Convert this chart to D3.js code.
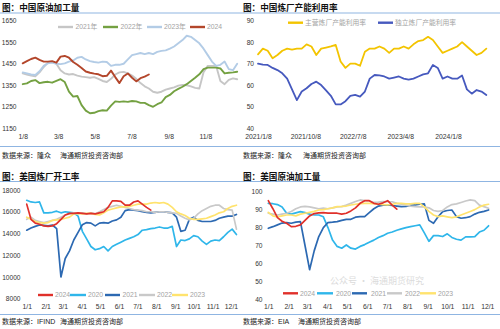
<!DOCTYPE html>
<html>
<head>
<meta charset="utf-8">
<script src="https://cdn.jsdelivr.net/npm/d3@7"></script>
<style>
  body { margin: 0; background: #fff; }
  svg { display: block; font-family: "Liberation Sans", "Noto Sans CJK SC", sans-serif; }
</style>
</head>
<body>
<svg id="chart" width="500" height="329"></svg>
<script>
// ---- China crude runs (weekly, from 1/8) ----
var cnRunYears = ["2021年", "2022年", "2023年", "2024"];
var cnRun2021 = [1405,1400,1395,1392,1410,1435,1455,1458,1450,1420,1405,1400,1402,1395,1390,1388,1385,1388,1380,1370,1365,1380,1400,1410,1412,1405,1395,1380,1360,1345,1335,1320,1315,1320,1330,1335,1340,1348,1352,1350,1345,1338,1335,1410,1440,1440,1440,1370,1355,1375,1382,1378];
var cnRun2022 = [1355,1359,1370,1374,1360,1364,1366,1362,1370,1378,1365,1320,1297,1300,1258,1232,1220,1222,1230,1234,1232,1255,1275,1273,1275,1273,1277,1275,1268,1268,1258,1250,1262,1270,1295,1305,1322,1333,1343,1355,1370,1385,1401,1425,1432,1432,1432,1428,1405,1408,1410,1413];
var cnRun2023 = [1410,1405,1400,1398,1415,1440,1452,1455,1450,1448,1452,1460,1465,1478,1482,1470,1462,1458,1455,1460,1458,1440,1445,1445,1450,1470,1490,1495,1500,1495,1500,1495,1505,1510,1512,1520,1530,1545,1560,1580,1575,1560,1545,1520,1490,1460,1440,1445,1460,1425,1420,1450];
var cnRun2024 = [1452,1462,1472,1478,1468,1460,1460,1462,1455,1483,1486,1478,1458,1445,1430,1414,1408,1404,1401,1392,1394,1418,1388,1360,1392,1405,1385,1368,1383,1390,1400];
var cnRunTicks = ["1/8", "3/8", "5/8", "7/8", "9/8", "11/8"];
var cnRunYTicks = [1150, 1250, 1350, 1450, 1550, 1650];

// ---- China refinery utilization (every 4 weeks from 2021/1/8) ----
var utilNames = ["主营炼厂产能利用率", "独立炼厂产能利用率"];
var utilMain = [74.3,77,76,72.5,74,76,77,76.5,77,77,79,78,74,77,77.5,78,78.7,71,68,70,70,69,75.5,77,77,78,77,75,77,77,78,77,79,80.5,81,82.5,81,78,75,76,77,78,80,78,76,74,75,77];
var utilIndep = [70,69.5,69.4,68,67,65.5,63,58,53,57,58.5,60.5,61.6,60,57.5,55,51,51,52.5,55,55.4,54.6,57,63,64.7,64.5,64,63,63.5,64,63,62.5,63,64,65,65.5,69.4,68,63,64,63,63,64.5,58,56,57.7,57,55.4];
var utilTicks = ["2021/1/8", "2021/10/8", "2022/7/8", "2023/4/8", "2024/1/8"];
var utilYTicks = [40, 50, 60, 70, 80, 90];

// ---- US refinery runs (weekly from 1/1) ----
var usYears = ["2024", "2020", "2021", "2022", "2023"];
var usRef2020 = [17050,16900,16850,16900,15900,15900,15950,16050,15900,16000,15950,15900,15600,14200,13500,12800,12500,12600,12800,12400,12800,13000,13200,13400,13550,13700,13900,14300,14350,14450,14500,14600,14500,14500,14650,12800,13400,13350,13500,13800,13700,13300,13000,13300,13400,13350,13700,14100,14400,13900];
var usRef2021 = [14300,14500,14650,14780,14750,14700,14780,14450,10000,11700,12400,13400,14100,14800,15000,14950,14700,14950,15000,14950,15150,15250,15500,16100,16200,16150,16100,16000,15950,15900,15950,16000,16000,15950,15900,15500,14200,14300,15300,15500,15200,15100,15100,15100,15200,15400,15500,15600,15600,15750];
var usRef2022 = [15300,15500,15200,15100,15000,15100,15200,15300,15500,15700,15800,15900,15800,15900,15800,15900,15800,16000,16200,16400,16500,16600,16500,16400,16300,16200,16150,16100,16000,16000,15950,16000,16000,15950,15900,15850,15600,15400,15250,15400,15800,16100,16300,16500,16600,16600,16300,16200,16150,14400];
var usRef2023 = [15500,15300,15100,15000,14950,15000,15200,15250,15300,15400,15500,15800,15850,15800,15850,15850,15750,15700,15900,16150,16250,16350,16450,16450,16500,16600,16700,16700,16700,16800,16850,16800,16850,16700,16400,16000,15800,15650,15400,15300,15300,15350,15400,15550,15700,15900,16000,16300,16500,16600];
var usRef2024 = [16700,15300,14950,14850,14700,14650,14700,14900,15300,15700,15850,15850,15900,15850,15800,15850,15800,15900,16000,16400,17000,17000,16950,16600,16600,16900,17000,16700,16400,16150];
var usRefYTicks = [8000, 10000, 12000, 14000, 16000, 18000];

// ---- US utilization (weekly from 1/1) ----
var usUtil2020 = [93.5,93.3,92.8,91.5,88,87.5,88.2,88.9,88.3,87.5,87,87,86,80,73,69.5,68.5,70.3,68.5,68,69.5,70.5,71.8,73,74.5,75.5,76.8,77.5,78.5,79.3,80,80.5,81,81.5,77,72.3,75.5,75.5,75,76.5,74.5,73.5,73,74.8,74.8,75,77.5,78.5,81];
var usUtil2021 = [79.6,80.5,81.5,82.5,82.8,82.4,83,83.3,70,56.5,67,75,80,82.8,83,83.3,84,84.6,84.6,85.8,86.1,86.1,88.3,90.5,92,92.5,92.6,92.3,92,91.7,91.8,92.4,92.6,93,93.2,84,82.4,86,88.9,89.5,89.8,86.1,85.2,85.5,86.1,87.5,88.5,89,89.8];
var usUtil2022 = [88,87.5,87,87.5,88,89,90.5,91.5,91.8,91.5,91,90.5,90.8,90.5,91,91.5,91.7,92.5,93.5,94.5,95.4,95,94.8,94,94.2,94.5,94.4,94.4,93.5,93,92.5,92,91.7,91.5,91.5,91,89.5,89,89.5,91.5,92.8,93.2,94,94.8,95.4,95,92.5,91.7,90.8];
var usUtil2023 = [88.5,86.5,86,86.5,87,87,86.5,87.5,88,88.5,89,89.8,90,90.5,91,91.7,91.8,92,92.6,93,93.3,93.5,93.5,93.3,93,92.8,92.6,93,93.5,93.5,93.2,93.2,93.5,93.5,91.5,89,87,86.1,86.5,86,85.5,86,87,88,89,90,91.5,92.5,93];
var usUtil2024 = [95,90.5,85.5,83.5,82.4,80.5,80.7,81.5,84,86.5,87.8,88.2,88.3,88.1,88,88,87.5,88,89.3,91,93.5,95,95,93.5,93,93.8,95,92.5,90.3];
var usUtilYTicks = [40, 50, 60, 70, 80, 90, 100];
var usMonthTicks = ["1/1", "2/1", "3/1", "4/1", "5/1", "6/1", "7/1", "8/1", "9/1", "10/1", "11/1", "12/1"];

var svg = d3.select("#chart");

function dateSeq(y, m, d, n, step) {
    return d3.range(n).map(function (i) { return new Date(Date.UTC(y, m - 1, d + i * step)); });
}
function parseMD(s, year) {
    var p = s.split("/").map(Number);
    return new Date(Date.UTC(year, p[0] - 1, p[1]));
}
function parseYMD(s) {
    var p = s.split("/").map(Number);
    return new Date(Date.UTC(p[0], p[1] - 1, p[2]));
}

function drawPanel(p) {
    var g = svg.append("g");

    //title
    g.append("text")
        .attr("x", p.left).attr("y", p.titleY)
        .attr("font-size", 8.6).attr("font-weight", "bold").attr("fill", "#111")
        .text(p.title);

    //source line
    g.append("text")
        .attr("x", p.left).attr("y", p.footY)
        .attr("font-size", 7).attr("fill", "#222")
        .text(p.source);
    g.append("text")
        .attr("x", p.left + p.source2Dx).attr("y", p.footY)
        .attr("font-size", 7).attr("fill", "#222")
        .text("海通期货投资咨询部");

    //y labels
    var yAxis = g.append("g")
        .attr("transform", "translate(" + p.yLabelX + ",0)")
        .call(d3.axisLeft(p.y).tickValues(p.yTicks).tickSize(0).tickPadding(0).tickFormat(d3.format("d")));
    yAxis.select(".domain").remove();
    yAxis.selectAll("text").attr("font-size", 6.6).attr("fill", "#333")
        .attr("font-family", "Liberation Sans, sans-serif");

    //x labels
    var xAxis = g.append("g")
        .attr("transform", "translate(0," + (p.xLabelY - 2.5) + ")")
        .call(d3.axisBottom(p.x).tickValues(p.xTickDates).tickSize(0).tickPadding(0)
            .tickFormat(function (d, i) { return p.xTickLabels[i]; }));
    xAxis.select(".domain").remove();
    xAxis.selectAll("text").attr("font-size", 6.8).attr("fill", "#333")
        .attr("font-family", "Liberation Sans, sans-serif");

    //lines
    var line = d3.line()
        .x(function (d) { return p.x(d[0]); })
        .y(function (d) { return p.y(d[1]); });

    p.series.forEach(function (s) {
        g.append("path")
            .datum(d3.zip(s.dates, s.values))
            .attr("fill", "none")
            .attr("stroke", s.color)
            .attr("stroke-width", p.lineWidth)
            .attr("stroke-linejoin", "round")
            .attr("stroke-linecap", "round")
            .attr("d", line);
    });

    //legend
    var lg = g.append("g");
    p.legend.forEach(function (l) {
        lg.append("line")
            .attr("x1", l.x0).attr("x2", l.x1)
            .attr("y1", p.legendY).attr("y2", p.legendY)
            .attr("stroke", l.color).attr("stroke-width", 2.4);
        lg.append("text")
            .attr("x", l.tx).attr("y", p.legendY + 2.4)
            .attr("font-size", 6.8).attr("fill", "#a3a3a3")
            .text(l.name);
    });
}

//separators
[13, 146.5, 181.5, 314.5].forEach(function (yy) {
    svg.append("line")
        .attr("x1", 0).attr("x2", 500).attr("y1", yy).attr("y2", yy)
        .attr("stroke", "#8fb5e2").attr("stroke-width", 1.1);
});

var c2021 = "#c6c6c6", c2022 = "#74a142", c2023 = "#b3cce6", c2024 = "#b3462b";

// panel 1: 中国原油加工量
drawPanel({
    title: "图：中国原油加工量", left: 2, titleY: 10.5,
    source: "数据来源：隆众", source2Dx: 58, footY: 157.5,
    x: d3.scaleUtc().domain([parseMD("1/8", 2021), parseMD("1/8", 2022)]).range([22.7, 242]),
    y: d3.scaleLinear().domain([1150, 1650]).range([128.3, 20.7]),
    yTicks: cnRunYTicks, yLabelX: 16.5,
    xTickDates: cnRunTicks.map(function (s) { return parseMD(s, 2021); }),
    xTickLabels: cnRunTicks, xLabelY: 136.5,
    lineWidth: 1.9,
    series: [
        { values: cnRun2021, color: c2021 },
        { values: cnRun2022, color: c2022 },
        { values: cnRun2023, color: c2023 },
        { values: cnRun2024, color: c2024 }
    ].map(function (s) { s.dates = dateSeq(2021, 1, 8, s.values.length, 7); return s; }),
    legendY: 27,
    legend: [
        { name: cnRunYears[0], color: c2021, x0: 58, x1: 73, tx: 75.5 },
        { name: cnRunYears[1], color: c2022, x0: 103, x1: 118, tx: 120.5 },
        { name: cnRunYears[2], color: c2023, x0: 147, x1: 162, tx: 164 },
        { name: cnRunYears[3], color: c2024, x0: 190, x1: 205, tx: 207 }
    ]
});

// panel 2: 中国炼厂产能利用率
var cMain = "#f3c400", cIndep = "#4659be";
drawPanel({
    title: "图：中国炼厂产能利用率", left: 243, titleY: 10.5,
    source: "数据来源：隆众", source2Dx: 60, footY: 157.5,
    x: d3.scaleUtc().domain([parseYMD("2021/1/8"), parseYMD("2024/1/8")]).range([258, 448]),
    y: d3.scaleLinear().domain([40, 90]).range([128, 20.7]),
    yTicks: utilYTicks, yLabelX: 254,
    xTickDates: utilTicks.map(parseYMD),
    xTickLabels: utilTicks, xLabelY: 137,
    lineWidth: 1.8,
    series: [
        { values: utilMain, color: cMain },
        { values: utilIndep, color: cIndep }
    ].map(function (s) { s.dates = dateSeq(2021, 1, 8, s.values.length, 28); return s; }),
    legendY: 22.7,
    legend: [
        { name: utilNames[0], color: cMain, x0: 288, x1: 303, tx: 305 },
        { name: utilNames[1], color: cIndep, x0: 378, x1: 393, tx: 395 }
    ]
});

var u2024 = "#e0302a", u2020 = "#2fb6ea", u2021 = "#2c69b2", u2022 = "#c9c9c9", u2023 = "#ffe36e";

// panel 3: 美国炼厂开工率
drawPanel({
    title: "图：美国炼厂开工率", left: 2, titleY: 179.5,
    source: "数据来源：IFIND", source2Dx: 58, footY: 323.5,
    x: d3.scaleUtc().domain([parseMD("1/1", 2021), parseMD("1/1", 2022)]).range([26.7, 249.9]),
    y: d3.scaleLinear().domain([8000, 18000]).range([298.7, 190]),
    yTicks: usRefYTicks, yLabelX: 20.5,
    xTickDates: usMonthTicks.map(function (s) { return parseMD(s, 2021); }),
    xTickLabels: usMonthTicks, xLabelY: 307,
    lineWidth: 1.7,
    series: [
        { values: usRef2020, color: u2020 },
        { values: usRef2021, color: u2021 },
        { values: usRef2022, color: u2022 },
        { values: usRef2023, color: u2023 },
        { values: usRef2024, color: u2024 }
    ].map(function (s) { s.dates = dateSeq(2021, 1, 1, s.values.length, 7); return s; }),
    legendY: 295,
    legend: [
        { name: usYears[0], color: u2024, x0: 38, x1: 53, tx: 55 },
        { name: usYears[1], color: u2020, x0: 70, x1: 86, tx: 88 },
        { name: usYears[2], color: u2021, x0: 105, x1: 120, tx: 122.5 },
        { name: usYears[3], color: u2022, x0: 139, x1: 155, tx: 157 },
        { name: usYears[4], color: u2023, x0: 172, x1: 188, tx: 190 }
    ]
});

// panel 4: 美国原油加工量
drawPanel({
    title: "图：美国原油加工量", left: 243, titleY: 179.5,
    source: "数据来源：EIA", source2Dx: 55, footY: 323.5,
    x: d3.scaleUtc().domain([parseMD("1/1", 2021), parseMD("1/1", 2022)]).range([268.3, 507.6]),
    y: d3.scaleLinear().domain([40, 100]).range([299.3, 191.7]),
    yTicks: usUtilYTicks, yLabelX: 262.5,
    xTickDates: usMonthTicks.map(function (s) { return parseMD(s, 2021); }),
    xTickLabels: usMonthTicks, xLabelY: 307,
    lineWidth: 1.7,
    series: [
        { values: usUtil2020, color: u2020 },
        { values: usUtil2021, color: u2021 },
        { values: usUtil2022, color: u2022 },
        { values: usUtil2023, color: u2023 },
        { values: usUtil2024, color: u2024 }
    ].map(function (s) { s.dates = dateSeq(2021, 1, 1, s.values.length, 7); return s; }),
    legendY: 293.3,
    legend: [
        { name: usYears[0], color: u2024, x0: 283, x1: 298, tx: 300 },
        { name: usYears[1], color: u2020, x0: 317, x1: 333, tx: 336 },
        { name: usYears[2], color: u2021, x0: 352, x1: 367, tx: 371 },
        { name: usYears[3], color: u2022, x0: 387, x1: 402, tx: 405 },
        { name: usYears[4], color: u2023, x0: 420, x1: 436, tx: 438 }
    ]
});

// faint watermark in the empty lower part of the last plot
svg.append("text")
    .attr("x", 330).attr("y", 284)
    .attr("font-size", 9).attr("fill", "#8a8a8a").attr("opacity", 0.3)
    .attr("font-family", "Noto Sans CJK SC, sans-serif")
    .text("公众号 · 海通期货研究");
</script>
</body>
</html>
